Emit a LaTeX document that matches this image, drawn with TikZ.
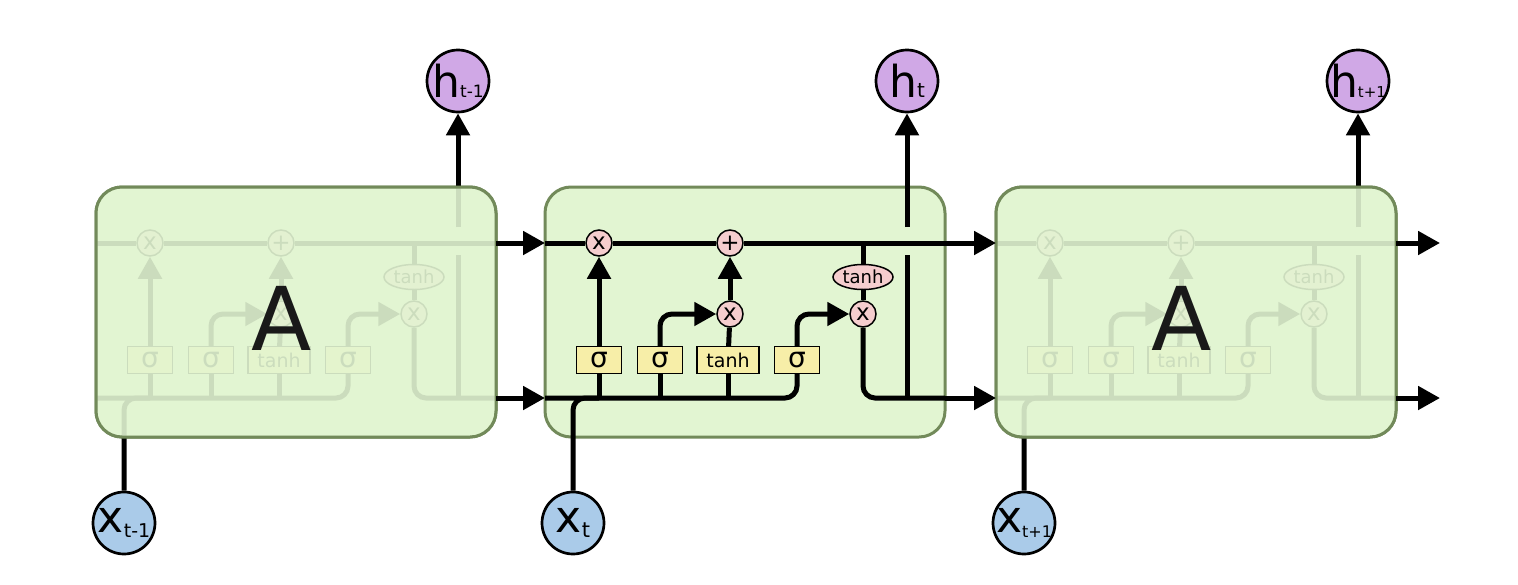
\documentclass[tikz,border=0pt]{standalone}
\usepackage{fontspec}
\setmainfont{DejaVu Sans}
\usetikzlibrary{arrows.meta,shapes.geometric}
\definecolor{cellfill}{RGB}{226,245,210}
\definecolor{cellborder}{RGB}{114,138,90}
\definecolor{opfill}{RGB}{245,205,206}
\definecolor{gatefill}{RGB}{247,238,168}
\definecolor{hfill}{RGB}{208,168,230}
\definecolor{xfill}{RGB}{170,203,233}
\tikzset{
  cellbox/.style={draw=cellborder, line width=3pt, fill=cellfill, rounded corners=26pt,
    minimum width=400pt, minimum height=250pt, inner sep=0pt},
  wire/.style={line width=5pt, black},
  arr/.style={wire, -{Triangle[length=22pt,width=23pt]}},
  op/.style={circle, draw, line width=1.5pt, fill=opfill, minimum size=26pt, inner sep=0pt,
    font=\fontsize{23}{23}\selectfont},
  tanhop/.style={ellipse, draw, line width=1.5pt, fill=opfill, minimum width=60pt,
    minimum height=25pt, inner sep=0pt, font=\fontsize{18}{18}\selectfont},
  gate/.style={rectangle, draw, line width=1.3pt, fill=gatefill, minimum width=45pt,
    minimum height=27pt, inner sep=0pt, font=\fontsize{28}{28}\selectfont},
  tanhgate/.style={gate, minimum width=62pt, font=\fontsize{19}{19}\selectfont},
  hstate/.style={circle, draw, line width=2.7pt, fill=hfill, minimum size=62pt, inner sep=0pt},
  xstate/.style={circle, draw, line width=2.7pt, fill=xfill, minimum size=62pt, inner sep=0pt},
  veil/.style={cellbox, fill opacity=0.9},
  bigA/.style={font=\fontsize{88}{88}\selectfont, text=black!90, inner sep=0pt}
}
% #1 subscript size, #2 subscript text
\newcommand\hlabel[2]{\makebox[46pt][c]{{\fontsize{44}{44}\selectfont h}{\fontsize{#1}{#1}\selectfont #2}}}
\newcommand\xlabel[2]{\makebox[46pt][c]{{\fontsize{44}{44}\selectfont x}\raisebox{-5pt}{\fontsize{#1}{#1}\selectfont #2}}}
\newcommand\lstmcell[4]{% #1 prefix, #2 x offset, #3 h label, #4 x label
\begin{scope}[shift={(#2,0)}]
  \node[cellbox] (#1box) at (200,312) {};
  \coordinate (#1cl) at (0,243); \coordinate (#1cr) at (400,243);
  \coordinate (#1hl) at (0,398); \coordinate (#1hr) at (400,398);
  \coordinate (#1hb) at (362,398); \coordinate (#1hg1) at (362,255); \coordinate (#1hg2) at (362,227);
  \node[op] (#1F) at (54,243) {x};
  \node[op] (#1P) at (185,243) {+};
  \node[op] (#1I) at (185,314) {x};
  \node[tanhop] (#1T) at (318,277) {tanh};
  \node[op] (#1O) at (318,314) {x};
  \node[gate] (#1S1) at (54,360) {σ};
  \node[gate] (#1S2) at (115,360) {σ};
  \node[tanhgate] (#1TB) at (183,360) {tanh};
  \node[gate] (#1S3) at (252,360) {σ};
  \node[hstate] (#1h) at (362,81) {#3};
  \node[xstate] (#1x) at (28,523) {#4};
  % cell state
  \draw[wire] (#1cl) -- (#1F);
  \draw[wire] (#1F) -- (#1P);
  \draw[wire] (#1P) -- (#1cr);
  % hidden / input line
  \draw[wire, rounded corners=12pt] (#1hl) -| (#1S3);
  \draw[wire, rounded corners=12pt] (#1x) |- (#1S1 |- #1hl);
  \draw[wire] (#1S1) -- (#1S1 |- #1hl);
  \draw[wire] (#1S2) -- (#1S2 |- #1hl);
  \draw[wire] (#1TB) -- (#1TB |- #1hl);
  % gates
  \draw[arr] (#1S1) -- (#1F);
  \draw[arr, rounded corners=12pt] (#1S2) |- (#1I);
  \draw[wire] (#1TB) -- (#1I);
  \draw[arr] (#1I) -- (#1P);
  \draw[arr, rounded corners=12pt] (#1S3) |- (#1O);
  \draw[wire] (#1T) -- (#1T |- #1cl);
  \draw[wire] (#1T) -- (#1O);
  \draw[wire, rounded corners=12pt] (#1O) |- (#1hr);
  % output h
  \draw[wire] (#1hb) -- (#1hg1);
  \draw[arr] (#1hg2) -- (#1h);
\end{scope}}
\begin{document}
\begin{tikzpicture}[x=1pt,y=-1pt]
  \fill[white] (0,0) rectangle (1518,584);
  \useasboundingbox (0,0) rectangle (1518,584);
  \lstmcell{L}{96}{\hlabel{17}{t-1}}{\xlabel{19}{t-1}}
  \node[veil] (Lveil) at (Lbox.center) {};
  \node[bigA] (LA) at (282,318) {A};
  \lstmcell{M}{545}{\hlabel{20}{t}}{\xlabel{21}{t}}
  \lstmcell{R}{996}{\hlabel{15}{t+1}}{\xlabel{16}{t+1}}
  \node[veil] (Rveil) at (Rbox.center) {};
  \node[bigA] (RA) at (1182,318) {A};
  \coordinate (endc) at (1440,243);
  \coordinate (endh) at (1440,398);
  \draw[arr] (Lcr) -- (Mcl);
  \draw[arr] (Lhr) -- (Mhl);
  \draw[arr] (Mcr) -- (Rcl);
  \draw[arr] (Mhr) -- (Rhl);
  \draw[arr] (Rcr) -- (endc);
  \draw[arr] (Rhr) -- (endh);
\end{tikzpicture}
\end{document}
